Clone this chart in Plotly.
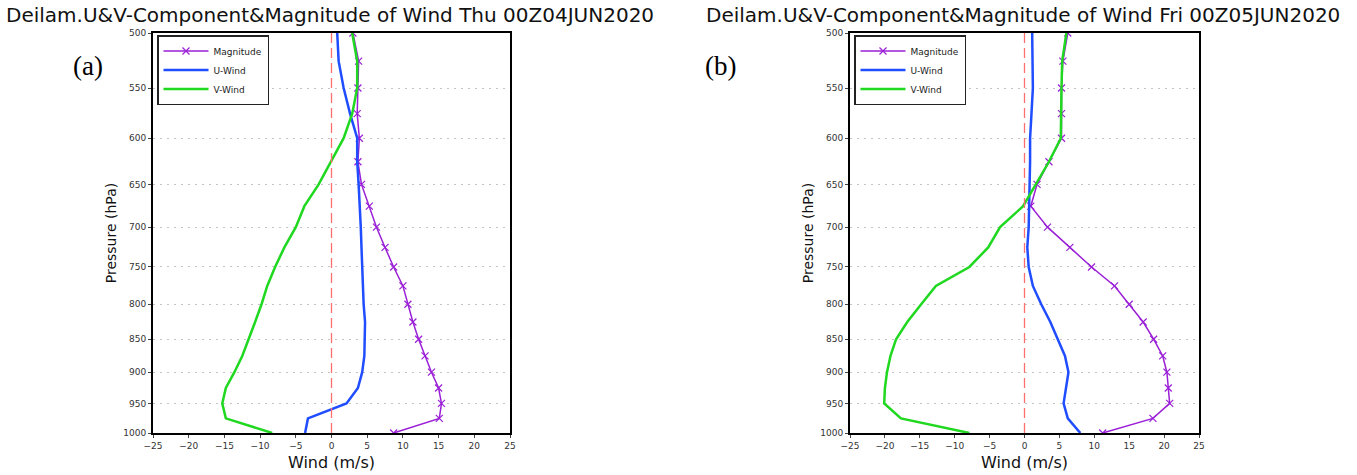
import plotly.graph_objects as go

# Pressure levels (hPa)
levels = [500, 525, 550, 575, 600, 625, 650, 675, 700, 725, 750,
          775, 800, 825, 850, 875, 900, 925, 950, 975, 1000]

# Thu 00Z04JUN2020
mag_a = [3.0, 3.8, 3.7, 3.6, 3.9, 3.7, 4.2, 5.3, 6.3, 7.5, 8.7,
         10.0, 10.7, 11.4, 12.2, 13.1, 14.0, 15.0, 15.4, 15.1, 8.7]
u_a = [0.8, 1.0, 1.7, 2.6, 3.6, 3.6, 3.8, 4.0, 4.1, 4.2, 4.3,
       4.4, 4.5, 4.7, 4.7, 4.6, 4.3, 3.7, 2.1, -3.3, -3.7]
v_a = [2.9, 3.6, 3.6, 2.9, 1.7, -0.1, -1.8, -3.8, -5.0, -6.6, -7.9,
       -9.0, -9.8, -10.7, -11.6, -12.5, -13.6, -14.8, -15.3, -14.8, -8.3]

# Fri 00Z05JUN2020
mag_b = [6.2, 5.5, 5.3, 5.3, 5.3, 3.5, 1.8, 0.9, 3.3, 6.5, 9.6,
         12.9, 15.0, 17.0, 18.5, 19.8, 20.4, 20.6, 20.8, 18.4, 11.2]
u_b = [1.1, 1.2, 1.2, 1.0, 0.8, 0.8, 0.7, 0.7, 0.6, 0.4, 0.6,
       1.2, 2.4, 3.7, 4.8, 5.8, 6.3, 6.0, 5.6, 6.2, 8.0]
v_b = [6.0, 5.4, 5.3, 5.3, 5.2, 3.5, 1.6, -0.2, -3.5, -5.2, -7.9,
       -12.7, -14.8, -16.8, -18.4, -19.2, -19.7, -20.0, -20.1, -17.7, -7.9]

titles = ["Deilam.U&V-Component&Magnitude of Wind Thu 00Z04JUN2020",
          "Deilam.U&V-Component&Magnitude of Wind Fri 00Z05JUN2020"]
panel_tags = ["(a)", "(b)"]
x_ticks = [-25, -20, -15, -10, -5, 0, 5, 10, 15, 20, 25]
p_ticks = [500, 550, 600, 650, 700, 750, 800, 850, 900, 950, 1000]

W, H = 1357, 475
PURPLE = "#9a1fd6"
BLUE = "#1f4dff"
GREEN = "#1fd81f"
GFONT = "DejaVu Sans"

fig = go.Figure()

# pixel layout of the two panels
panels = [
    dict(x0=153, x1=510, title_x=330, tag_x=88),
    dict(x0=850, x1=1199, title_x=1023, tag_x=720),
]
top_px, bot_px = 33, 433
ydom = [1 - bot_px / H, 1 - top_px / H]

datasets = [(mag_a, u_a, v_a), (mag_b, u_b, v_b)]

for i, (pan, (mag, u, v)) in enumerate(zip(panels, datasets)):
    n = "" if i == 0 else str(i + 1)
    xa, ya = "x" + n, "y" + n
    leg = "legend" + n
    fig.add_trace(go.Scatter(
        x=mag, y=levels, xaxis=xa, yaxis=ya, name="Magnitude", legend=leg,
        mode="lines+markers",
        line=dict(color=PURPLE, width=1.5),
        marker=dict(symbol="x-thin", size=7, line=dict(color=PURPLE, width=1.2)),
    ))
    fig.add_trace(go.Scatter(
        x=u, y=levels, xaxis=xa, yaxis=ya, name="U-Wind", legend=leg,
        mode="lines", line=dict(color=BLUE, width=2.5),
    ))
    fig.add_trace(go.Scatter(
        x=v, y=levels, xaxis=xa, yaxis=ya, name="V-Wind", legend=leg,
        mode="lines", line=dict(color=GREEN, width=2.5),
    ))

    xdom = [pan["x0"] / W, pan["x1"] / W]
    fig.update_layout(**{
        "xaxis" + n: dict(
            domain=xdom, range=[-25, 25], anchor=ya, automargin=False,
            tickvals=x_ticks, ticks="outside", ticklen=3, tickwidth=1,
            tickfont=dict(family=GFONT, size=9, color="#333"),
            showgrid=False, zeroline=False,
            showline=True, mirror=True, linecolor="black", linewidth=2,
            title=dict(text="Wind (m/s)", standoff=7,
                       font=dict(family=GFONT, size=16, color="#111")),
        ),
        "yaxis" + n: dict(
            domain=ydom, type="log", range=[3.0, 2.69897], anchor=xa,
            automargin=False,
            tickvals=p_ticks, ticktext=[str(p) for p in p_ticks],
            ticks="outside", ticklen=3, tickwidth=1,
            tickfont=dict(family=GFONT, size=9, color="#333"),
            showgrid=True, gridcolor="#c4c4c4", griddash="2px,5px", gridwidth=1,
            zeroline=False,
            showline=True, mirror=True, linecolor="black", linewidth=2,
            title=dict(text="Pressure (hPa)", standoff=3,
                       font=dict(family=GFONT, size=14, color="#111")),
        ),
        leg: dict(
            x=(pan["x0"] + 4) / W, y=1 - (top_px + 2) / H,
            xanchor="left", yanchor="top",
            bgcolor="white", bordercolor="#222", borderwidth=1.5,
            font=dict(family=GFONT, size=9, color="#222"),
            tracegroupgap=0, itemwidth=45,
        ),
    })

    # zero reference line
    fig.add_shape(type="line", xref=xa, yref=ya, x0=0, x1=0,
                  y0=levels[0], y1=levels[-1],
                  line=dict(color="#ff6f6f", width=1.3, dash="10px,5px"))

    fig.add_annotation(text=titles[i], xref="paper", yref="paper",
                       x=pan["title_x"] / W, y=1 - 15 / H,
                       xanchor="center", yanchor="middle", showarrow=False,
                       font=dict(family=GFONT, size=20, color="#111"))
    fig.add_annotation(text=panel_tags[i], xref="paper", yref="paper",
                       x=pan["tag_x"] / W, y=1 - 66 / H,
                       xanchor="center", yanchor="middle", showarrow=False,
                       font=dict(family="Liberation Serif", size=27, color="black"))

fig.update_layout(
    width=W, height=H,
    margin=dict(l=0, r=0, t=0, b=0, autoexpand=False),
    paper_bgcolor="white", plot_bgcolor="white",
    showlegend=True,
)

fig.write_html("out.html")
